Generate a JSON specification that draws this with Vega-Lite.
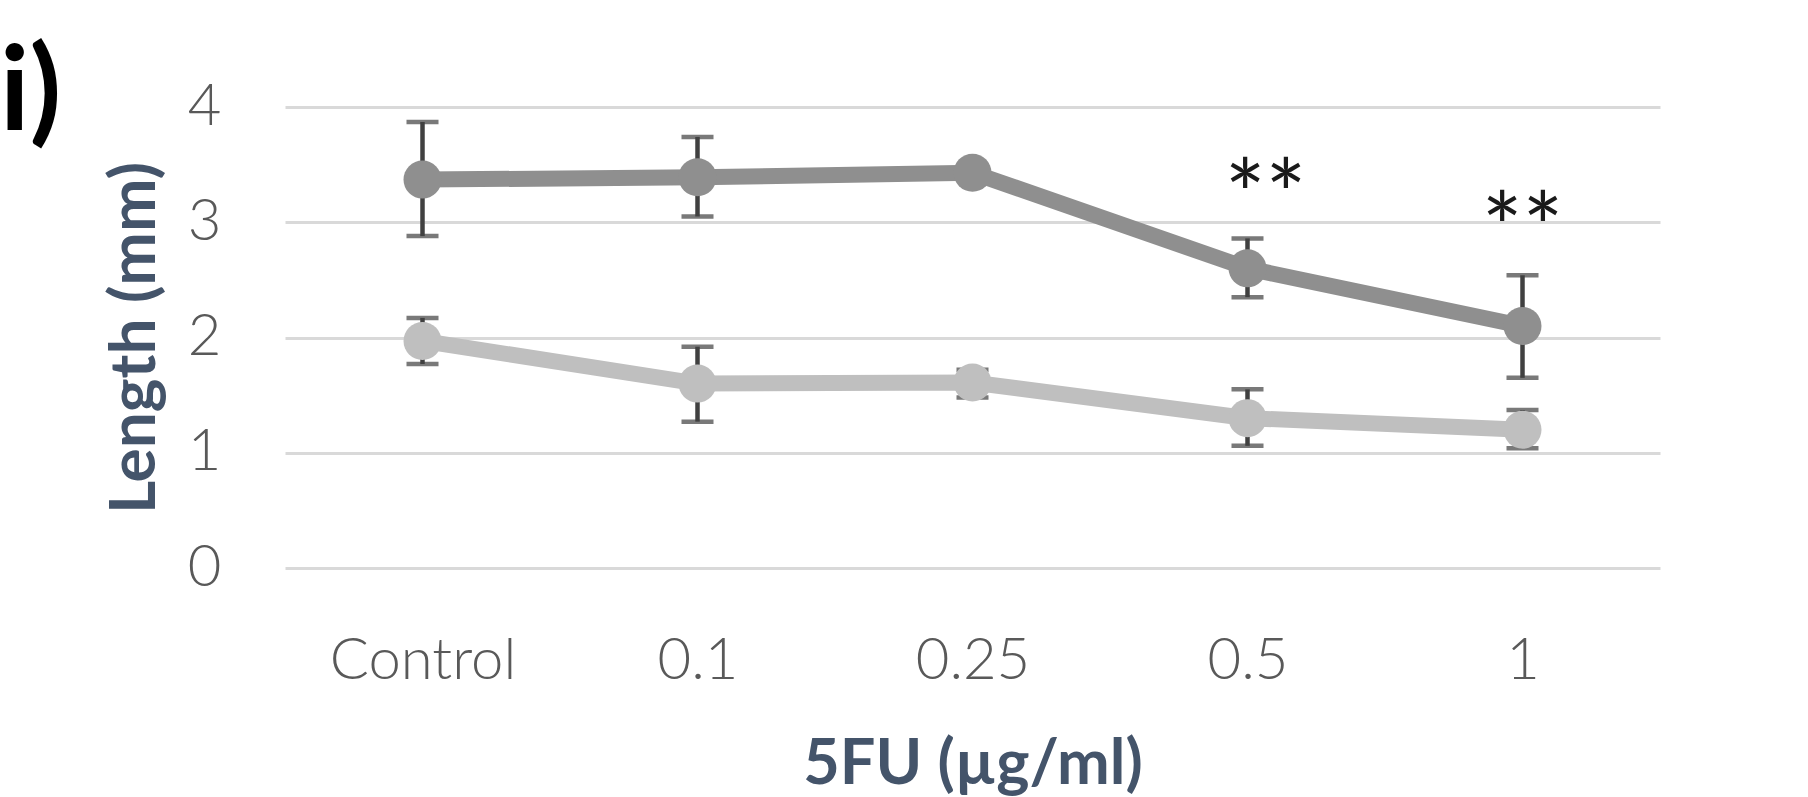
{
  "$schema": "https://vega.github.io/schema/vega-lite/v6.json",
  "width": 1375,
  "height": 461,
  "autosize": {"type": "none"},
  "padding": {"left": 285, "top": 107, "right": 148, "bottom": 229},
  "background": "white",
  "title": {"text": "i)", "anchor": "start", "frame": "group", "font": "Lato", "fontSize": 116, "fontWeight": "bold", "color": "#000000", "baseline": "alphabetic", "offset": 0, "dx": -285, "dy": 168},
  "config": {"view": {"stroke": null}, "font": "Lato"},
  "datasets": {
    "points": [
      {"dose": "Control", "series": "A", "mean": 3.37, "lo": 2.88, "hi": 3.87},
      {"dose": "0.1", "series": "A", "mean": 3.39, "lo": 3.05, "hi": 3.74},
      {"dose": "0.25", "series": "A", "mean": 3.43, "lo": 3.37, "hi": 3.49},
      {"dose": "0.5", "series": "A", "mean": 2.6, "lo": 2.35, "hi": 2.86},
      {"dose": "1", "series": "A", "mean": 2.1, "lo": 1.65, "hi": 2.54},
      {"dose": "Control", "series": "B", "mean": 1.97, "lo": 1.77, "hi": 2.17},
      {"dose": "0.1", "series": "B", "mean": 1.6, "lo": 1.27, "hi": 1.92},
      {"dose": "0.25", "series": "B", "mean": 1.61, "lo": 1.48, "hi": 1.72},
      {"dose": "0.5", "series": "B", "mean": 1.3, "lo": 1.06, "hi": 1.55},
      {"dose": "1", "series": "B", "mean": 1.2, "lo": 1.04, "hi": 1.37}
    ],
    "stars": [
      {"dose": "0.5", "y": 3.41, "label": "**"},
      {"dose": "1", "y": 3.12, "label": "**"}
    ]
  },
  "encoding": {
    "x": {
      "field": "dose", "type": "nominal",
      "sort": ["Control", "0.1", "0.25", "0.5", "1"],
      "scale": {"type": "point", "padding": 0.5},
      "axis": {
        "title": "5FU (µg/ml)", "labelAngle": 0, "labelFont": "Lato", "labelFontSize": 58, "labelFontWeight": 300, "labelLimit": 0,
        "labelColor": "#595959", "domain": false, "ticks": false, "tickSize": 0, "grid": false, "labelPadding": 64,
        "titleFont": "Lato", "titleFontSize": 63, "titleFontWeight": "bold", "titleColor": "#44546a", "titlePadding": 43
      }
    }
  },
  "layer": [
    {
      "data": {"name": "points"},
      "mark": {"type": "errorbar", "color": "#404040", "ticks": {"size": 32, "thickness": 4.5}, "rule": {"strokeWidth": 4.5}},
      "encoding": {
        "y": {
          "field": "lo", "type": "quantitative", "title": "Length (mm)",
          "scale": {"domain": [0, 4], "nice": false},
          "axis": {
            "values": [0, 1, 2, 3, 4], "format": "d", "labelFont": "Lato", "labelFontSize": 58, "labelFontWeight": 300, "labelColor": "#595959",
            "domain": false, "ticks": false, "tickSize": 0, "labelPadding": 64, "grid": true, "gridColor": "#d9d9d9", "gridWidth": 3,
            "titleFont": "Lato", "titleFontSize": 64, "titleFontWeight": "bold", "titleColor": "#44546a", "titlePadding": 20
          }
        },
        "y2": {"field": "hi"},
        "detail": {"field": "series"}
      }
    },
    {
      "data": {"name": "points"},
      "mark": {"type": "line", "strokeWidth": 16},
      "encoding": {
        "y": {"field": "mean", "type": "quantitative", "title": "Length (mm)"},
        "color": {"field": "series", "type": "nominal", "scale": {"domain": ["A", "B"], "range": ["#8f8f8f", "#bfbfbf"]}, "legend": null}
      }
    },
    {
      "data": {"name": "points"},
      "mark": {"type": "point", "filled": true, "size": 1444, "opacity": 1},
      "encoding": {
        "y": {"field": "mean", "type": "quantitative", "title": "Length (mm)"},
        "color": {"field": "series", "type": "nominal", "scale": {"domain": ["A", "B"], "range": ["#8f8f8f", "#bfbfbf"]}, "legend": null}
      }
    },
    {
      "data": {"name": "stars"},
      "transform": [{"filter": "datum.dose === '0.5'"}],
      "mark": {"type": "text", "font": "Lato", "fontSize": 96, "color": "#1a1a1a", "baseline": "middle", "dx": 18, "dy": 26},
      "encoding": {
        "y": {"field": "y", "type": "quantitative", "title": "Length (mm)"},
        "text": {"field": "label"}
      }
    },
    {
      "data": {"name": "stars"},
      "transform": [{"filter": "datum.dose === '1'"}],
      "mark": {"type": "text", "font": "Lato", "fontSize": 96, "color": "#1a1a1a", "baseline": "middle", "dy": 26},
      "encoding": {
        "y": {"field": "y", "type": "quantitative", "title": "Length (mm)"},
        "text": {"field": "label"}
      }
    }
  ]
}
